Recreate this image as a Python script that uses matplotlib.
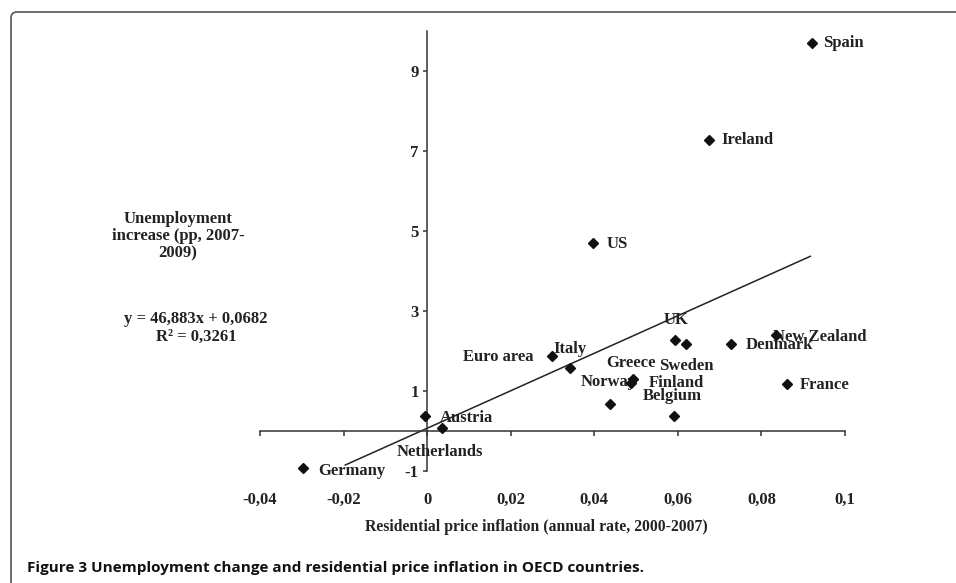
import matplotlib
matplotlib.use("Agg")
import matplotlib.pyplot as plt
from matplotlib import font_manager
from matplotlib.patches import FancyBboxPatch

# values
countries = ["Spain", "Ireland", "US", "UK", "Sweden", "Denmark", "New Zealand",
             "France", "Belgium", "Greece", "Finland", "Norway", "Italy",
             "Euro area", "Austria", "Netherlands", "Germany"]
inflation = [0.0920, 0.0674, 0.0397, 0.0594, 0.0620, 0.0728, 0.0834,
             0.0861, 0.0590, 0.0493, 0.0489, 0.0438, 0.0343,
             0.0299, -0.0005, 0.0035, -0.0296]
unemployment = [9.69, 7.27, 4.69, 2.28, 2.18, 2.18, 2.40,
                1.17, 0.38, 1.29, 1.19, 0.67, 1.57,
                1.88, 0.38, 0.07, -0.93]

slope, intercept = 46.883, 0.0682
trend_x = [-0.0196, 0.0917]

x_ticks = [-0.04, -0.02, 0, 0.02, 0.04, 0.06, 0.08, 0.1]
x_tick_labels = ["-0,04", "-0,02", "0", "0,02", "0,04", "0,06", "0,08", "0,1"]
y_ticks = [-1, 1, 3, 5, 7, 9]

# label offsets (points) from each marker, as placed in the original
label_offsets = {
    "Spain": (8, 0.5), "Ireland": (9, 0), "US": (10, -0.5), "UK": (-8.6, 14.4),
    "Sweden": (-19.4, -15.8), "Denmark": (10, -0.7), "New Zealand": (-2.2, -1.4),
    "France": (9.6, -0.5), "Belgium": (-22.5, 14.6), "Greece": (-19.2, 11.7),
    "Finland": (12.2, 0.6), "Norway": (-20.9, 16.1), "Italy": (-12.2, 13.9),
    "Euro area": (-63.9, -0.7), "Austria": (10.8, -1.4),
    "Netherlands": (-32.2, -17.1), "Germany": (10.6, -1.9),
}

SERIF = "Liberation Serif"
installed = {f.name for f in font_manager.fontManager.ttflist}
CAPTION_FONT = "Liberation Sans Narrow" if "Liberation Sans Narrow" in installed else "Open Sans"
TXT = "#222222"

fig = plt.figure(figsize=(9.56, 5.83), dpi=100)
ax = fig.add_axes([260 / 956, 1 - 471 / 583, 585 / 956, 440 / 583])
ax.set_xlim(-0.04, 0.1)
ax.set_ylim(-1, 10)
ax.patch.set_visible(False)

# axes crossing at zero, like the spreadsheet chart
for side in ("top", "right"):
    ax.spines[side].set_visible(False)
ax.spines["left"].set_position(("data", 0))
ax.spines["bottom"].set_position(("data", 0))
ax.spines["left"].set_bounds(-1, 10)
ax.spines["bottom"].set_bounds(-0.04, 0.1)
for side in ("left", "bottom"):
    ax.spines[side].set_color("#333333")
    ax.spines[side].set_linewidth(1.1)

ax.set_xticks(x_ticks)
ax.set_xticklabels(x_tick_labels)
ax.set_yticks(y_ticks)
ax.set_yticklabels([str(v) for v in y_ticks])
ax.tick_params(axis="x", direction="out", length=3.6, width=1.1, color="#333333",
               pad=40, labelsize=12, labelcolor=TXT)
ax.tick_params(axis="y", direction="out", length=3, width=1.1, color="#333333",
               pad=3, labelsize=12, labelcolor=TXT)
for lab in ax.get_xticklabels() + ax.get_yticklabels():
    lab.set_fontfamily(SERIF)
    lab.set_fontweight("bold")

# trend line
trend_y = [slope * v + intercept for v in trend_x]
ax.plot(trend_x, trend_y, color="#222222", lw=1.1, zorder=2)

# scatter
ax.plot(inflation, unemployment, "D", color="#111111", ms=5, zorder=4, clip_on=False)
for name, xv, yv in zip(countries, inflation, unemployment):
    ax.annotate(name, (xv, yv), xytext=label_offsets[name], textcoords="offset points",
                ha="left", va="center", fontsize=12, fontfamily=SERIF,
                fontweight="bold", color=TXT, zorder=3)

ax.set_xlabel("Residential price inflation (annual rate, 2000-2007)", fontsize=11.3,
              fontfamily=SERIF, fontweight="bold", color=TXT, va="center")
ax.xaxis.set_label_coords(0.472, -0.127)
ax.set_ylabel("Unemployment\nincrease (pp, 2007-\n2009)", rotation=0, fontsize=12,
              fontfamily=SERIF, fontweight="bold", color=TXT, ha="center",
              va="center", linespacing=1.12)
ax.yaxis.set_label_coords(-0.140, 0.534)

ax.text(-0.109, 0.325, "y = 46,883x + 0,0682\nR² = 0,3261", transform=ax.transAxes,
        ha="center", va="center", fontsize=12, fontfamily=SERIF, fontweight="bold",
        color=TXT, linespacing=1.1)

# caption and outer frame
fig.text(27 / 956, 1 - 568 / 583,
         "Figure 3 Unemployment change and residential price inflation in OECD countries.",
         fontsize=11, fontfamily=CAPTION_FONT, fontweight="bold", color="#111111",
         ha="left", va="center")
frame = FancyBboxPatch((0.11, -0.5), 10, 6.21, boxstyle="round,pad=0,rounding_size=0.06",
                       transform=fig.dpi_scale_trans, facecolor="none",
                       edgecolor="#555555", lw=1.2)
fig.add_artist(frame)

fig.savefig("out.png", dpi=100)
